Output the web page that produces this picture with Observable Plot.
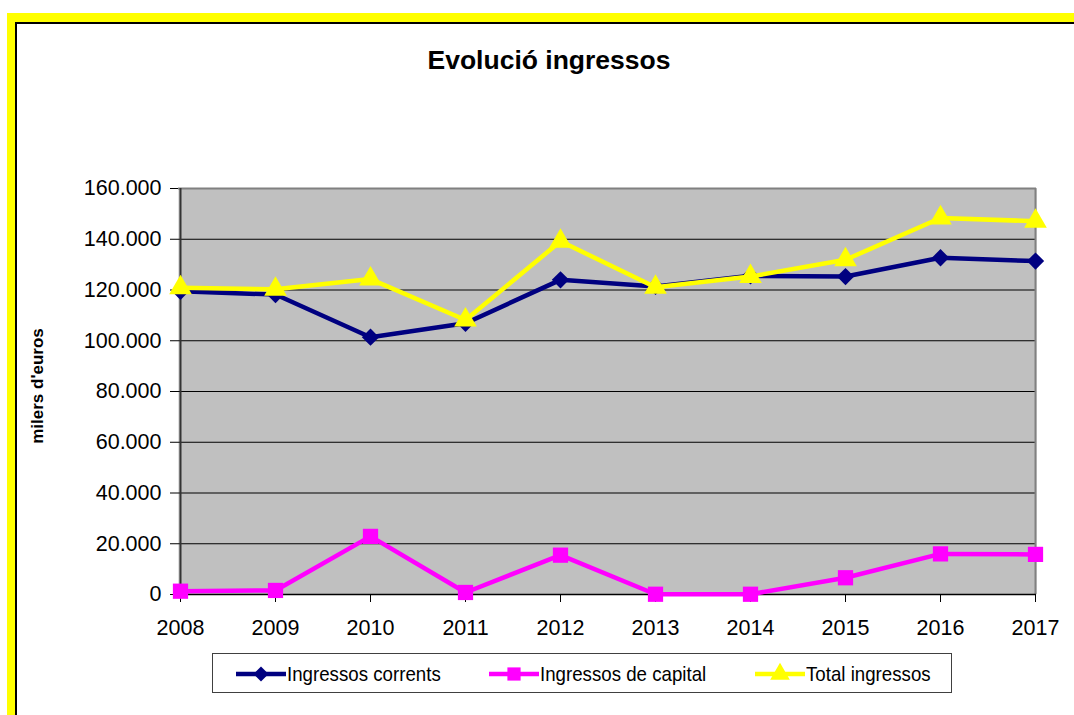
<!DOCTYPE html>
<html>
<head>
<meta charset="utf-8">
<script src="https://cdn.jsdelivr.net/npm/d3@7"></script>
<script src="https://cdn.jsdelivr.net/npm/@observablehq/plot@0.6"></script>
<style>
  html, body { margin: 0; padding: 0; background: #fff; overflow: hidden; }
  #page { position: relative; width: 1074px; height: 715px; overflow: hidden; font-family: "Liberation Sans", Arial, sans-serif; color: #000; }
  #frame { position: absolute; left: 7px; top: 13px; width: 1300px; height: 900px; border-left: 8px solid #ffff00; border-top: 9px solid #ffff00; }
  #frame-inner { position: absolute; left: 0; top: 0; right: 0; bottom: 0; border-left: 2px solid #000; border-top: 2px solid #000; }
  #chart { position: absolute; left: 0; top: 0; }
  #title { position: absolute; left: 0; width: 1098px; top: 47px; text-align: center; font-weight: bold; font-size: 26.5px; line-height: 1; white-space: nowrap; }
  #ylabel { position: absolute; left: 36.5px; top: 386px; transform: translate(-50%, -50%) rotate(-90deg); font-weight: bold; font-size: 17px; line-height: 1; white-space: nowrap; }
  #legend { position: absolute; left: 212px; top: 653px; width: 738px; height: 38px; border: 1px solid #404040; background: #fff; }
  .item { position: absolute; top: 0; height: 38px; }
  .item svg { position: absolute; top: 0; left: 0; }
  .item span { position: absolute; top: 9px; font-size: 21px; line-height: 1; white-space: nowrap; transform: scaleX(0.89); transform-origin: left center; }
</style>
</head>
<body>
<div id="page">
  <div id="frame"><div id="frame-inner"></div></div>
  <div id="chart"></div>
  <div id="title">Evolució ingressos</div>
  <div id="ylabel">milers d'euros</div>
  <div id="legend"></div>
</div>
<script>
// ---- data ----
const years = [2008, 2009, 2010, 2011, 2012, 2013, 2014, 2015, 2016, 2017];
const corrents = [119500, 118200, 101400, 106900, 124000, 121400, 125600, 125300, 132700, 131400];
const capital = [1300, 1600, 22900, 800, 15500, 100, 100, 6600, 16000, 15800];
const total = [120900, 120300, 124300, 108200, 139200, 121100, 125300, 131900, 148400, 147100];
const seriesNames = ["Ingressos corrents", "Ingressos de capital", "Total ingressos"];
const seriesColors = ["#000080", "#ff00ff", "#ffff00"];
const seriesSymbols = ["diamond2", "square", "triangle"];
const seriesR = [7.8, 8.6, 8.4];
const yTicks = [0, 20000, 40000, 60000, 80000, 100000, 120000, 140000, 160000];

const seriesValues = [corrents, capital, total];
const fmt = d => d3.format(",")(d).replace(/,/g, ".");

const marks = [
  Plot.frame({fill: "#c0c0c0", stroke: null}),
  Plot.ruleY(yTicks.filter(d => d > 0 && d < 160000), {stroke: "#000", strokeWidth: 1}),
  Plot.ruleY([160000], {stroke: "#808080", strokeWidth: 2}),
  Plot.ruleX([years[years.length - 1]], {stroke: "#808080", strokeWidth: 2}),
  Plot.ruleX([years[0]], {stroke: "#333", strokeWidth: 2}),
  Plot.ruleY([0], {stroke: "#000", strokeWidth: 1.5}),
  Plot.axisY({ticks: yTicks, tickFormat: fmt, tickSize: 8, tickPadding: 9, fontSize: 21.5, fontFamily: "Liberation Sans, Arial, sans-serif", label: null, stroke: "#000"}),
  Plot.axisX({tickSize: 8, tickPadding: 17, fontSize: 21.5, fontFamily: "Liberation Sans, Arial, sans-serif", label: null, tickFormat: d => String(d), stroke: "#000"})
];

seriesValues.forEach((vals, i) => {
  const rows = years.map((y, j) => ({year: y, value: vals[j]}));
  marks.push(Plot.line(rows, {x: "year", y: "value", stroke: seriesColors[i], strokeWidth: 4.5, curve: "linear"}));
  marks.push(Plot.dot(rows, {x: "year", y: "value", fill: seriesColors[i], stroke: null, symbol: seriesSymbols[i], r: seriesR[i]}));
});

const chart = Plot.plot({
  width: 1074,
  height: 715,
  marginLeft: 178,
  marginRight: 38,
  marginTop: 188,
  marginBottom: 121,
  style: {background: "transparent", fontFamily: "Liberation Sans, Arial, sans-serif", fontSize: "21px", color: "#000", overflow: "visible"},
  x: {type: "point", domain: years, padding: 0, axis: null},
  y: {domain: [0, 160000], axis: null},
  marks
});
document.getElementById("chart").appendChild(chart);

// ---- legend ----
const legend = document.getElementById("legend");
const itemLefts = [22, 275, 541];
const symGen = {
  diamond2: d3.symbolDiamond2,
  square: d3.symbolSquare,
  triangle: d3.symbolTriangle
};
seriesNames.forEach((name, i) => {
  const item = document.createElement("div");
  item.className = "item";
  item.style.left = itemLefts[i] + "px";
  const svg = d3.create("svg").attr("width", 52).attr("height", 38);
  svg.append("line").attr("x1", 1).attr("x2", 51).attr("y1", 20).attr("y2", 20)
    .attr("stroke", seriesColors[i]).attr("stroke-width", 4.5);
  const area = Math.PI * seriesR[i] * seriesR[i] * 0.75;
  svg.append("path").attr("d", d3.symbol(symGen[seriesSymbols[i]], area)())
    .attr("transform", "translate(26,20)").attr("fill", seriesColors[i]);
  item.appendChild(svg.node());
  const span = document.createElement("span");
  span.textContent = name;
  span.style.left = "52px";
  item.appendChild(span);
  legend.appendChild(item);
});
</script>
</body>
</html>
